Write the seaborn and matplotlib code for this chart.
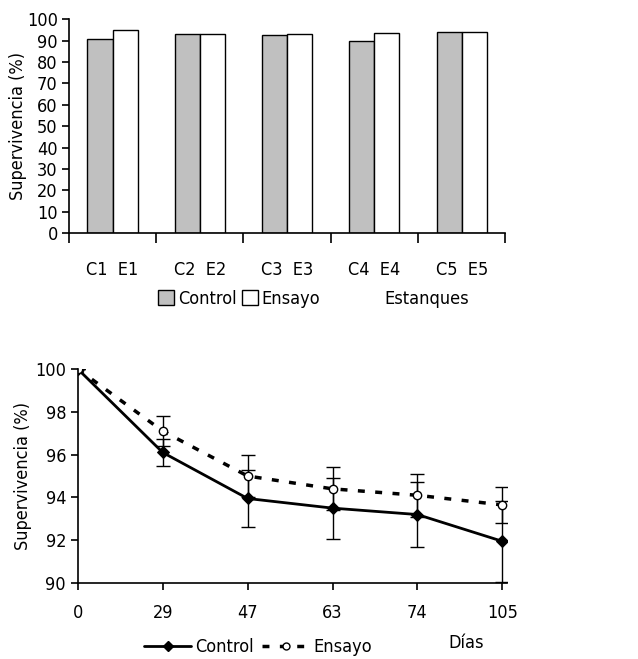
import numpy as np
import pandas as pd
import seaborn as sns
import matplotlib.pyplot as plt
from matplotlib.patches import Patch
from matplotlib.lines import Line2D

sns.set_theme(style="ticks")
plt.rcParams['font.family'] = ['DejaVu Sans']
plt.rcParams['font.stretch'] = 'condensed'
plt.rcParams['text.color'] = 'black'
plt.rcParams['axes.labelcolor'] = 'black'
plt.rcParams['xtick.color'] = 'black'
plt.rcParams['ytick.color'] = 'black'

# Survival per pond (top chart)
ponds = ['1', '2', '3', '4', '5']
control_pond = [90.5, 93.1, 92.5, 89.7, 94.2]
ensayo_pond = [95.0, 93.1, 93.1, 93.3, 94.1]

# Survival over time (bottom chart)
days = ['0', '29', '47', '63', '74', '105']
control_days = [100.0, 96.1, 93.95, 93.5, 93.2, 91.95]
control_err = [0.0, 0.65, 1.35, 1.43, 1.5, 1.9]
ensayo_days = [100.0, 97.1, 95.0, 94.4, 94.1, 93.65]
ensayo_err = [0.0, 0.7, 1.0, 1.0, 1.0, 0.83]

bars = pd.DataFrame({
    'pond': ponds * 2,
    'value': control_pond + ensayo_pond,
    'group': ['Control'] * 5 + ['Ensayo'] * 5,
})

fig = plt.figure(figsize=(6.38, 6.59), dpi=100)
fs = 13

# --- top: bar chart
ax1 = fig.add_axes([0.108, 0.646, 0.684, 0.325])
sns.barplot(data=bars, x='pond', y='value', hue='group',
            palette={'Control': '#c0c0c0', 'Ensayo': 'white'},
            edgecolor='black', linewidth=1.0, width=0.575,
            errorbar=None, legend=False, ax=ax1)
ax1.set_xlim(-0.5, 4.5)
ax1.set_ylim(0, 100)
ax1.set_yticks(range(0, 101, 10))
ax1.set_xticks(np.arange(-0.5, 5, 1))
ax1.set_xticklabels([])
ax1.set_xticks(range(5), minor=True)
ax1.set_xticklabels([f'C{p}  E{p}' for p in ponds], minor=True)
ax1.tick_params(axis='x', which='minor', length=0, pad=20, labelsize=fs)
ax1.tick_params(axis='x', which='major', length=7, width=1.2, color='black')
ax1.tick_params(axis='y', length=5, width=1.2, color='black', labelsize=fs, pad=3)
for s in ['top', 'right']:
    ax1.spines[s].set_visible(False)
for s in ['left', 'bottom']:
    ax1.spines[s].set_color('black')
    ax1.spines[s].set_linewidth(1.2)
ax1.set_xlabel('')
ax1.set_ylabel('Supervivencia (%)', fontsize=fs, labelpad=0)
handles = [Patch(facecolor='#c0c0c0', edgecolor='black', label='Control'),
           Patch(facecolor='white', edgecolor='black', label='Ensayo')]
ax1.legend(handles=handles, loc='center', bbox_to_anchor=(0.39, -0.305),
           ncol=2, frameon=False, fontsize=fs, handlelength=0.9, handleheight=0.9,
           handletextpad=0.2, columnspacing=0.3, borderaxespad=0)
ax1.text(0.82, -0.305, 'Estanques', transform=ax1.transAxes,
         ha='center', va='center', fontsize=fs)

# --- bottom: survival over time
ax2 = fig.add_axes([0.122, 0.1153, 0.672, 0.3247])
pos = np.arange(len(days))
ax2.errorbar(pos, control_days, yerr=control_err, fmt='none', ecolor='black',
             elinewidth=1.0, capsize=5, capthick=1.0)
ax2.errorbar(pos, ensayo_days, yerr=ensayo_err, fmt='none', ecolor='black',
             elinewidth=1.0, capsize=5, capthick=1.0)
sns.lineplot(x=pos, y=control_days, color='black', linewidth=2.0,
             marker='D', markersize=6, markeredgecolor='black', ax=ax2)
sns.lineplot(x=pos, y=ensayo_days, color='black', linewidth=2.5,
             linestyle=(0, (2, 3)), marker='o', markersize=6,
             markerfacecolor='white', markeredgecolor='black',
             markeredgewidth=1.0, ax=ax2)
ax2.set_xlim(0, 5.05)
ax2.set_ylim(90, 100)
ax2.set_yticks(range(90, 101, 2))
ax2.set_xticks(pos)
ax2.set_xticklabels(days)
ax2.tick_params(axis='both', length=5, width=1.2, color='black', labelsize=fs)
ax2.tick_params(axis='x', pad=10)
for s in ['top', 'right']:
    ax2.spines[s].set_visible(False)
for s in ['left', 'bottom']:
    ax2.spines[s].set_color('black')
    ax2.spines[s].set_linewidth(1.2)
ax2.set_ylabel('Supervivencia (%)', fontsize=fs, labelpad=2)
lh = [Line2D([], [], color='black', linewidth=2.0, marker='D', markersize=5,
             label='Control'),
      Line2D([], [], color='black', linewidth=2.5, linestyle=(0, (2, 3)),
             marker='o', markersize=5, markerfacecolor='white', label='Ensayo')]
ax2.legend(handles=lh, loc='center', bbox_to_anchor=(0.42, -0.3), ncol=2,
           frameon=False, fontsize=fs, handlelength=2.6, handletextpad=0.2,
           columnspacing=0.5, borderaxespad=0)
ax2.text(0.905, -0.28, 'Días', transform=ax2.transAxes,
         ha='center', va='center', fontsize=fs)

fig.savefig('out.png', dpi=100)
